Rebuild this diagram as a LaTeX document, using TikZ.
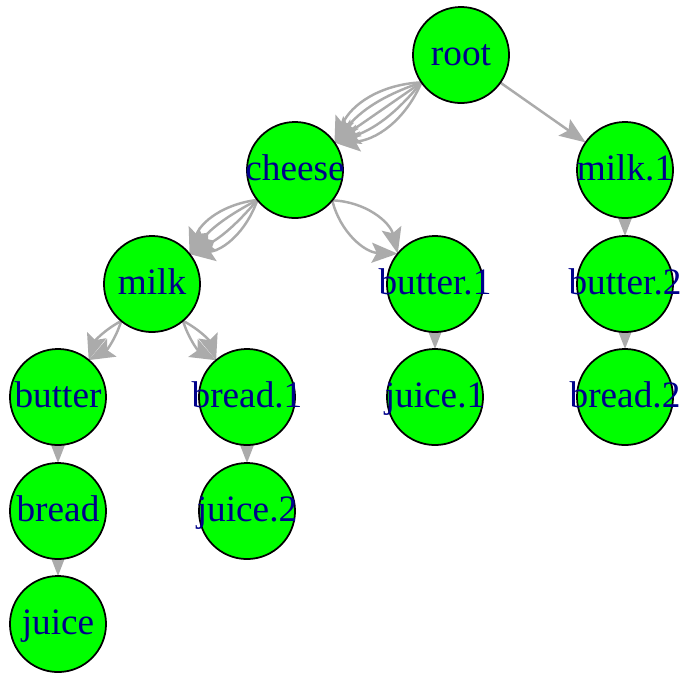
\documentclass[tikz,border=0pt]{standalone}
\usepackage{fontspec}
\setmainfont{Liberation Serif}
\usetikzlibrary{calc,arrows.meta,backgrounds}
\definecolor{vfill}{HTML}{00FF00}
\definecolor{vtext}{HTML}{00008B}
\definecolor{egray}{HTML}{ABABAB}

% draws one or more parallel (bent) arcs between two vertices,
% each clipped at the vertex rims along the straight line
\newcommand\multiedge[3]{%
  \coordinate (ms) at ($(#1)!0.48cm!(#2)$);
  \coordinate (mt) at ($(#2)!0.48cm!(#1)$);
  \foreach \bb in {#3} {\draw[edge] (ms) to[bend left=\bb] (mt);}
}
% label of zero width, so that every circle keeps the same size
\newcommand\vlabel[1]{\makebox[0pt][c]{#1}}

\begin{document}
\begin{tikzpicture}[x=0.01cm,y=-0.01cm,
  vertex/.style={circle,draw=black,line width=0.5pt,fill=vfill,
    minimum size=0.96cm,inner sep=0pt,text=vtext,
    text height=7pt,text depth=1pt,
    font=\fontsize{10.6}{12}\selectfont},
  edge/.style={draw=egray,line width=0.7pt,
    -{Stealth[length=0.26cm,width=0.2cm,inset=0.05cm]}}]
\useasboundingbox (0,0) rectangle (682,672);

% vertices
\node[vertex] (root)    at (461,55)  {\vlabel{root}};
\node[vertex] (cheese)  at (295,170) {\vlabel{cheese}};
\node[vertex] (milk1)   at (625,170) {\vlabel{milk.1}};
\node[vertex] (milk)    at (152,284) {\vlabel{milk}};
\node[vertex] (butter1) at (435,284) {\vlabel{butter.1}};
\node[vertex] (butter2) at (625,284) {\vlabel{butter.2}};
\node[vertex] (butter)  at (58,397)  {\vlabel{butter}};
\node[vertex] (bread1)  at (247,397) {\vlabel{bread.1}};
\node[vertex] (juice1)  at (435,397) {\vlabel{juice.1}};
\node[vertex] (bread2)  at (625,397) {\vlabel{bread.2}};
\node[vertex] (bread)   at (58,511)  {\vlabel{bread}};
\node[vertex] (juice2)  at (247,511) {\vlabel{juice.2}};
\node[vertex] (juice)   at (58,624)  {\vlabel{juice}};

% edges, drawn beneath the vertices
\begin{scope}[on background layer]
  \multiedge{root}{cheese}{-32,-16,0,16,32}
  \multiedge{root}{milk1}{0}
  \multiedge{cheese}{milk}{-32,-11,11,32}
  \multiedge{cheese}{butter1}{-37,37}
  \multiedge{milk1}{butter2}{0}
  \multiedge{milk}{butter}{-22,22}
  \multiedge{milk}{bread1}{-22,22}
  \multiedge{butter1}{juice1}{0}
  \multiedge{butter2}{bread2}{0}
  \multiedge{butter}{bread}{0}
  \multiedge{bread1}{juice2}{0}
  \multiedge{bread}{juice}{0}
\end{scope}
\end{tikzpicture}
\end{document}
